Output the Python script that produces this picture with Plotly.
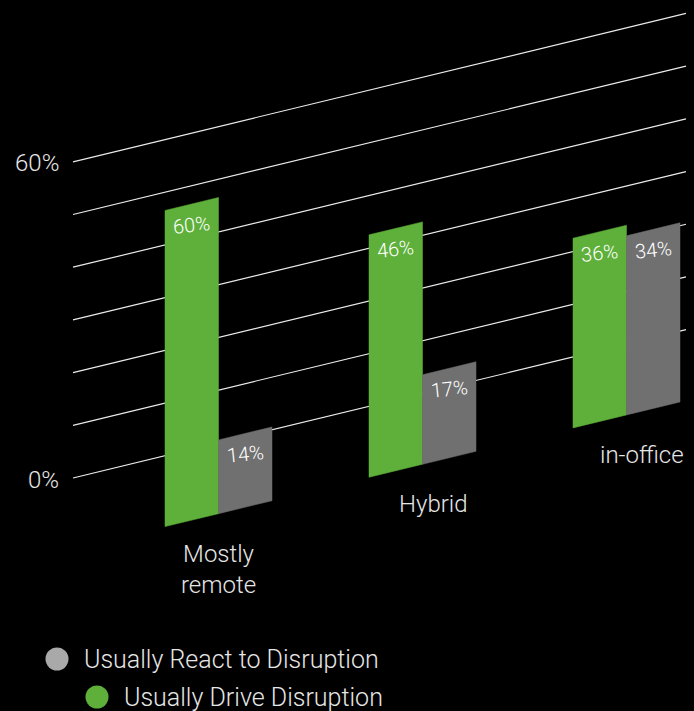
import plotly.graph_objects as go

# ---------------- data ----------------
categories = ["Mostly<br>remote", "Hybrid", "in-office"]
drive = [60, 46, 36]          # Usually Drive Disruption (green)
react = [14, 17, 34]          # Usually React to Disruption (gray)
drive_labels = ["60%", "46%", "36%"]
react_labels = ["14%", "17%", "34%"]
grid_values = [0, 10, 20, 30, 40, 50, 60]
tick_values = [0, 60]
tick_labels = ["0%", "60%"]
series_names = ["Usually React to Disruption", "Usually Drive Disruption"]

# ---------------- geometry / style ----------------
W, H = 694, 711
PX_PER_PCT = 5.27             # vertical pixels per percentage point
SLOPE = 0.242                 # perspective rise of the floor (px per px)
SKEW = SLOPE / PX_PER_PCT     # in % units per x unit
GRID_X0, GRID_X1 = 73, 686
ZERO_PX = 478                 # pixel row of 0% gridline at GRID_X0
GROUP_X0 = 165
GROUP_STEP = 204
BAR_W = 53.5
FLOOR_OFF = -13.45            # bars' floor below the 0% gridline (% units)
CAT_DX = [0, 11, 15]
GREEN = "#5eb03a"
GRAY = "#707070"
LEG_GRAY = "#a9a9a9"
TXT = "#e6e6e6"
FONT = "Roboto"


def sy(x, v, off=0.0):
    """skewed value coordinate"""
    return v + SKEW * (x - GRID_X0) + off


def py(pix):
    return (ZERO_PX - pix) / PX_PER_PCT


fig = go.Figure()

# gridlines
gx, gy = [], []
for g in grid_values:
    gx += [GRID_X0, GRID_X1, None]
    gy += [sy(GRID_X0, g), sy(GRID_X1, g), None]
fig.add_trace(go.Scatter(x=gx, y=gy, mode="lines",
                         line=dict(color="rgba(255,255,255,0.92)", width=1.2),
                         hoverinfo="skip", showlegend=False))

annotations = []


def bar(x0, v, color, label, name):
    x1 = x0 + BAR_W
    xs = [x0, x1, x1, x0, x0]
    ys = [sy(x0, 0, FLOOR_OFF), sy(x1, 0, FLOOR_OFF), sy(x1, v, FLOOR_OFF),
          sy(x0, v, FLOOR_OFF), sy(x0, 0, FLOOR_OFF)]
    fig.add_trace(go.Scatter(x=xs, y=ys, mode="lines", fill="toself",
                             fillcolor=color, line=dict(color=color, width=0.5),
                             name=name, showlegend=False, hoverinfo="skip"))
    xc = (x0 + x1) / 2
    annotations.append(dict(x=xc, y=sy(xc, v, FLOOR_OFF) - 21 / PX_PER_PCT,
                            text=label, showarrow=False, textangle=-6,
                            font=dict(family=FONT, size=20, color="white", weight=300),
                            xanchor="center", yanchor="middle"))


for i, cat in enumerate(categories):
    x0 = GROUP_X0 + i * GROUP_STEP
    bar(x0, drive[i], GREEN, drive_labels[i], series_names[1])
    bar(x0 + BAR_W, react[i], GRAY, react_labels[i], series_names[0])
    xc = x0 + BAR_W
    annotations.append(dict(x=xc + CAT_DX[i], y=sy(xc, 0, FLOOR_OFF) - 24 / PX_PER_PCT,
                            text=cat, showarrow=False,
                            font=dict(family=FONT, size=24, color=TXT, weight=300),
                            xanchor="center", yanchor="top"))

# y tick labels
for v, t in zip(tick_values, tick_labels):
    annotations.append(dict(x=61, y=sy(GRID_X0, v) - 0.3, text=t, showarrow=False,
                            font=dict(family=FONT, size=24, color=TXT, weight=300),
                            xanchor="right", yanchor="middle"))

# legend (manual)
leg = [(57, 659, LEG_GRAY, series_names[0]), (97, 697, GREEN, series_names[1])]
for cx, cy, col, name in leg:
    fig.add_trace(go.Scatter(x=[cx], y=[py(cy)], mode="markers",
                             marker=dict(size=23, color=col), showlegend=False,
                             hoverinfo="skip"))
    annotations.append(dict(x=cx + 25, y=py(cy), text=name, showarrow=False,
                            font=dict(family=FONT, size=25, color=TXT, weight=300),
                            xanchor="left", yanchor="middle"))

fig.update_layout(
    width=W, height=H, autosize=False,
    margin=dict(l=0, r=0, t=0, b=0),
    paper_bgcolor="#000000", plot_bgcolor="#000000",
    xaxis=dict(range=[0, W], visible=False, fixedrange=True),
    yaxis=dict(range=[py(H), py(0)], visible=False, fixedrange=True),
    annotations=annotations,
    showlegend=False,
)

fig.write_html("out.html",
               config={"displayModeBar": False},
               post_script="document.body.style.margin='0';"
                           "document.body.style.background='#000';")
